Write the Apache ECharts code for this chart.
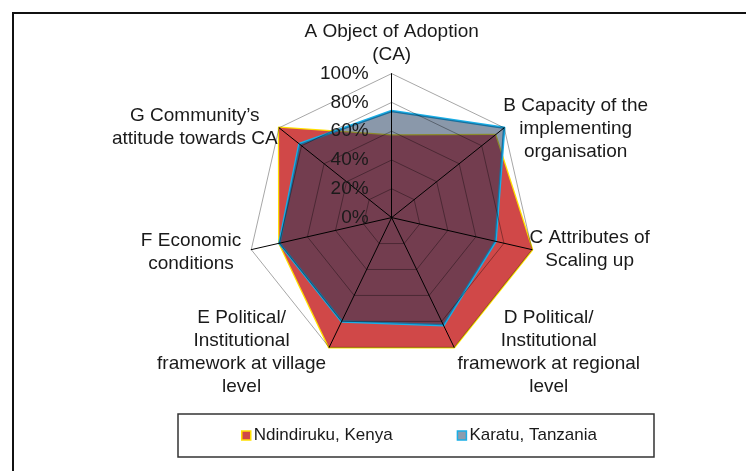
<!DOCTYPE html>
<html>
<head>
<meta charset="utf-8">
<script src="https://cdn.jsdelivr.net/npm/echarts@6/dist/echarts.min.js"></script>
<style>
  body { margin: 0; background: #fff; }
  #frame {
    position: absolute; left: 12px; top: 12px; width: 760px; height: 480px;
    border-left: 2px solid #111; border-top: 2px solid #111;
  }
  #chart { position: absolute; left: 0; top: 0; width: 746px; height: 471px; }
</style>
</head>
<body>
<div id="frame"></div>
<div id="chart"></div>
<script>
// chart data, in A..G order (clockwise from top)
const factors = [
  "A Object of Adoption\n(CA)",
  "B Capacity of the\nimplementing\norganisation",
  "C Attributes of\nScaling up",
  "D Political/\nInstitutional\nframework at regional\nlevel",
  "E Political/\nInstitutional\nframework at village\nlevel",
  "F Economic\nconditions",
  "G Community’s\nattitude towards CA",
];
const kenya = [57, 92, 100, 100, 100, 80, 100]; // Ndindiruku, Kenya
const karatu = [74, 100, 74, 83, 80, 80, 82]; // Karatu, Tanzania
const tickValues = [0, 20, 40, 60, 80, 100];

// label layout (gap from the vertex, width of the centred text block)
const nameGaps = [7, -2, -3, 6, 6, 10, 1];
const nameWidths = [175, 146, 121, 184, 170, 101, 167];

// echarts goes counter-clockwise, so walk A, G, F, ... B
const order = [0, 6, 5, 4, 3, 2, 1];
const pick = (arr) => order.map((i) => arr[i]);

const FONT = "Liberation Sans";
const TEXT = "#1a1a1a";

const rich = {};
factors.forEach((f, i) => {
  rich["w" + i] = {
    width: nameWidths[i],
    align: "center",
    fontFamily: FONT,
    fontSize: 19,
    lineHeight: 23,
    color: TEXT,
  };
});

const CENTER = ["52.5%", "46.2%"];
const RADIUS = 144;

const chart = echarts.init(document.getElementById("chart"));
chart.setOption({
  animation: false,
  legend: {
    left: 178,
    top: 414,
    padding: [13, 57, 13, 63],
    borderColor: "#333",
    borderWidth: 1.5,
    itemWidth: 9,
    itemHeight: 9,
    itemGap: 64,
    textStyle: { fontFamily: FONT, fontSize: 17, color: TEXT, padding: [0, 0, 0, -2] },
    data: [
      { name: "Ndindiruku, Kenya", icon: "rect", itemStyle: { color: "#d04848", borderColor: "#ffe000", borderWidth: 1.5 } },
      { name: "Karatu, Tanzania", icon: "rect", itemStyle: { color: "#8c9cae", borderColor: "#1aaee6", borderWidth: 1.5 } },
    ],
  },
  radar: [
    {
      // base radar: holds the series and the factor names
      center: CENTER,
      radius: RADIUS,
      startAngle: 90,
      shape: "polygon",
      splitNumber: 5,
      indicator: order.map((i) => ({
        name: factors[i],
        min: tickValues[0],
        max: tickValues[tickValues.length - 1],
        nameGap: nameGaps[i],
      })),
      axisName: {
        color: TEXT,
        fontFamily: FONT,
        fontSize: 19,
        lineHeight: 23,
        rich: rich,
        formatter: (name) => {
          const i = factors.indexOf(name);
          return name
            .split("\n")
            .map((line) => "{w" + i + "|" + line + "}")
            .join("\n");
        },
      },
      axisLine: { show: false },
      splitLine: { show: false },
      splitArea: { show: false },
      axisTick: { show: false },
      axisLabel: { show: false },
      z: 1,
    },
    {
      // overlay radar: rings, spokes and % labels on top of the fills
      center: CENTER,
      radius: RADIUS,
      startAngle: 90,
      shape: "polygon",
      splitNumber: 5,
      indicator: order.map((i) => ({
        name: "",
        min: tickValues[0],
        max: tickValues[tickValues.length - 1],
        axisLabel: { show: i === 0 },
      })),
      axisName: { show: false },
      axisLine: { show: true, lineStyle: { color: "#000", width: 1 } },
      splitLine: { show: true, lineStyle: { color: "rgba(0,0,0,0.35)", width: 1 } },
      splitArea: { show: false },
      axisTick: { show: false },
      axisLabel: {
        show: false,
        formatter: (v) => v + "%",
        color: TEXT,
        fontFamily: FONT,
        fontSize: 19,
        margin: 23,
      },
      z: 5,
    },
  ],
  series: [
    {
      type: "radar",
      radarIndex: 0,
      symbol: "none",
      z: 2,
      data: [
        {
          name: "Ndindiruku, Kenya",
          value: pick(kenya),
          lineStyle: { color: "#ffe000", width: 2.5 },
          areaStyle: { color: "#d04848", opacity: 1 },
          itemStyle: { color: "#d04848" },
        },
        {
          name: "Karatu, Tanzania",
          value: pick(karatu),
          lineStyle: { color: "#1aaee6", width: 2.5 },
          areaStyle: { color: "#153155", opacity: 0.5 },
          itemStyle: { color: "#8c9cae" },
        },
      ],
    },
  ],
});
</script>
</body>
</html>
